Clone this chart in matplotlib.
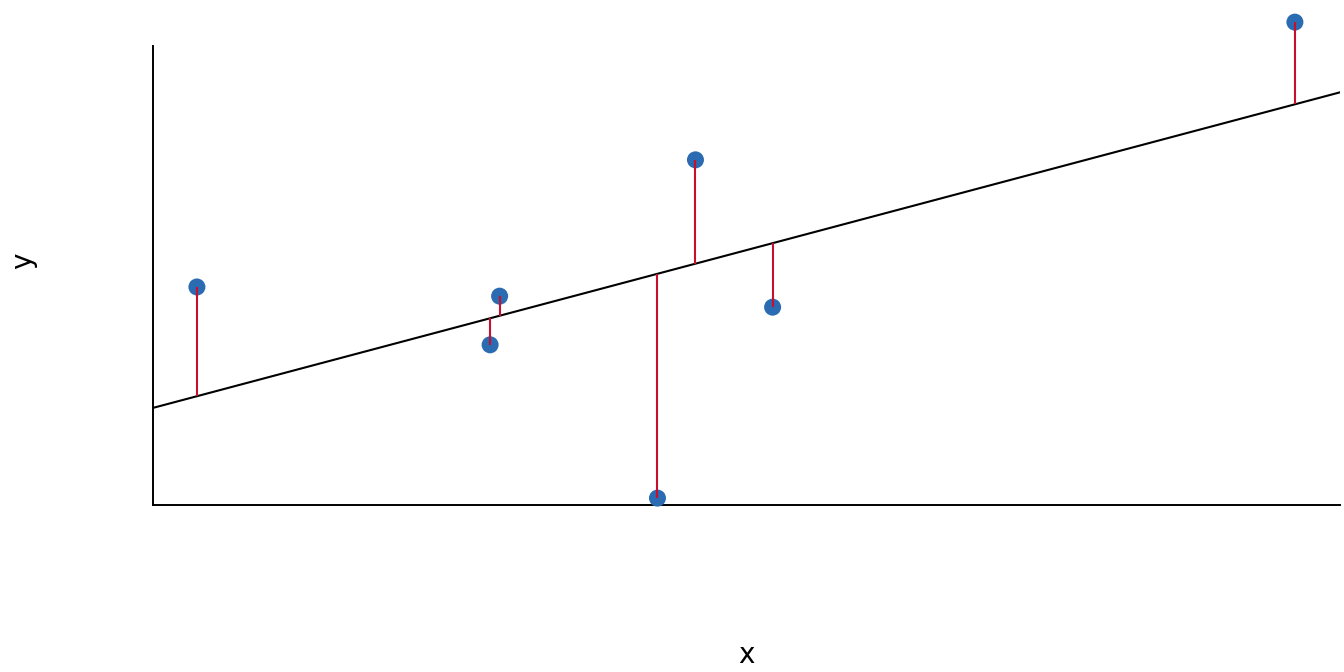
import matplotlib
import numpy as np

matplotlib.use("Agg")
import matplotlib.pyplot as plt

# observations
x_obs = [0.37, 2.84, 2.92, 4.25, 4.57, 5.22, 9.62]
y_obs = [4.75, 3.49, 4.55, 0.15, 7.52, 4.31, 10.52]

x_range = [0, 10]
y_range = [0, 10]


def main() -> None:
    x = np.array(x_obs)
    y = np.array(y_obs)
    slope, intercept = np.polyfit(x, y, 1)
    fitted = intercept + slope * x

    fig = plt.figure(figsize=(13.44, 6.72), dpi=100)
    ax = fig.add_axes([153 / 1344, 1 - 505 / 672, 1187 / 1344, 459 / 672])

    line_x = np.array(x_range)
    ax.plot(line_x, intercept + slope * line_x, color="black", linewidth=1.5, zorder=2)
    ax.scatter(x, y, s=150, color="#2a6bb1", edgecolors="none", zorder=3, clip_on=False)
    ax.vlines(x, fitted, y, color="#c8102e", linewidth=1.5, zorder=4, clip_on=False)

    ax.set_xlim(*x_range)
    ax.set_ylim(*y_range)
    ax.set_xticks([])
    ax.set_yticks([])
    for side in ("top", "right"):
        ax.spines[side].set_visible(False)
    for side in ("left", "bottom"):
        ax.spines[side].set_linewidth(1.4)

    ax.set_xlabel("x", fontsize=20, labelpad=98)
    ax.set_ylabel("y", fontsize=20)
    ax.yaxis.set_label_coords(-0.098, 0.533)

    fig.savefig("out.png", dpi=100, facecolor="white")
    plt.close(fig)


if __name__ == "__main__":
    main()
